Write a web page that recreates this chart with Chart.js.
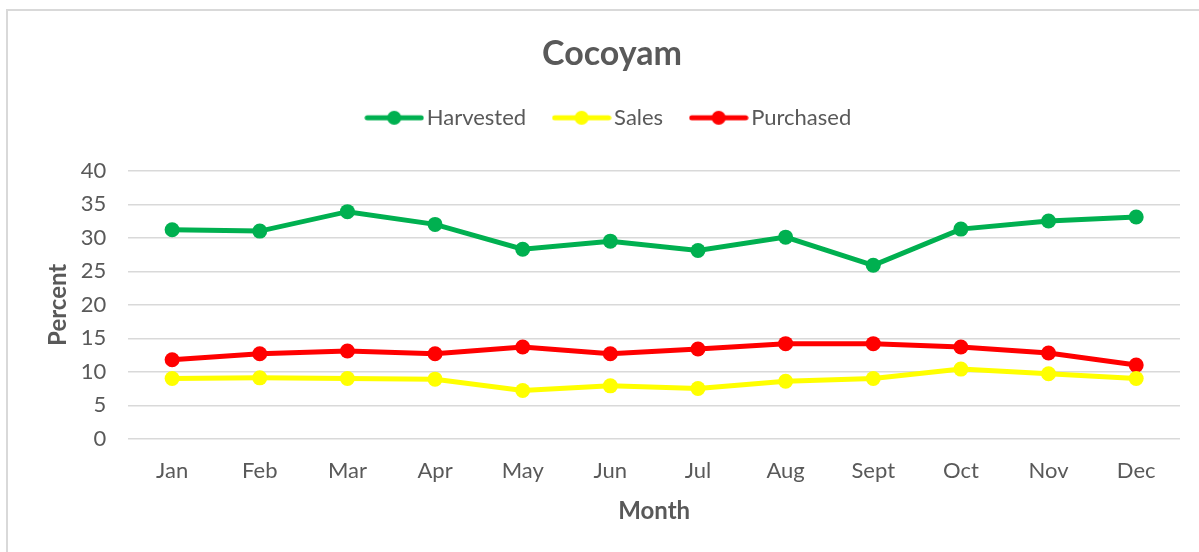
<!DOCTYPE html>
<html>
<head>
<meta charset="utf-8">
<script src="https://cdn.jsdelivr.net/npm/chart.js@4.4.0/dist/chart.umd.min.js"></script>
<style>
  html, body { margin: 0; padding: 0; background: #fff; overflow: hidden; }
  #frame { position: absolute; left: 6px; top: 9px; width: 1300px; height: 700px; border: 2px solid #d9d9d9; }
  #wrap { position: absolute; left: 0; top: 0; width: 1199px; height: 552px; }
</style>
</head>
<body>
<div id="frame"></div>
<div id="wrap"><canvas id="chart"></canvas></div>
<script>
// chart data
const months = ["Jan", "Feb", "Mar", "Apr", "May", "Jun", "Jul", "Aug", "Sept", "Oct", "Nov", "Dec"];
const harvested = [31.2, 31.0, 33.9, 32.0, 28.3, 29.5, 28.1, 30.1, 25.9, 31.3, 32.5, 33.1];
const sales = [9.0, 9.1, 9.0, 8.9, 7.2, 7.9, 7.5, 8.6, 9.0, 10.4, 9.7, 9.0];
const purchased = [11.8, 12.7, 13.1, 12.7, 13.7, 12.7, 13.4, 14.2, 14.2, 13.7, 12.8, 11.0];
const yTicks = [0, 5, 10, 15, 20, 25, 30, 35, 40];

const fontFamily = "Lato, 'Open Sans', sans-serif";
const textColor = "#595959";

// small line+dot picture for legend
function legendMark(color) {
  const c = document.createElement("canvas");
  c.width = 60;
  c.height = 16;
  const g = c.getContext("2d");
  g.strokeStyle = color;
  g.lineWidth = 5;
  g.lineCap = "round";
  g.beginPath();
  g.moveTo(3, 8);
  g.lineTo(57, 8);
  g.stroke();
  g.fillStyle = color;
  g.beginPath();
  g.arc(30, 8, 7, 0, Math.PI * 2);
  g.fill();
  return c;
}

function makeSet(label, data, color) {
  return {
    label: label,
    data: data,
    borderColor: color,
    backgroundColor: color,
    borderWidth: 5,
    pointRadius: 7.5,
    pointHoverRadius: 7.5,
    pointBorderWidth: 0,
    tension: 0,
    legendImg: legendMark(color)
  };
}

// extra room under the legend
const legendSpace = {
  id: "legendSpace",
  beforeInit(chart) {
    const fit = chart.legend.fit;
    chart.legend.fit = function() {
      fit.bind(chart.legend)();
      this.height += 32;
    };
  }
};

const ctx = document.getElementById("chart").getContext("2d");
new Chart(ctx, {
  type: "line",
  data: {
    labels: months,
    datasets: [
      makeSet("Harvested", harvested, "#00b050"),
      makeSet("Sales", sales, "#ffff00"),
      makeSet("Purchased", purchased, "#ff0000")
    ]
  },
  plugins: [legendSpace],
  options: {
    responsive: true,
    maintainAspectRatio: false,
    animation: false,
    layout: { padding: { left: 44, right: 19, top: 10, bottom: 28 } },
    plugins: {
      title: {
        display: true,
        text: "Cocoyam",
        color: textColor,
        font: { family: fontFamily, size: 34, weight: "bold" },
        padding: { top: 24, bottom: -2 }
      },
      legend: {
        display: true,
        labels: {
          usePointStyle: true,
          pointStyleWidth: 43,
          color: textColor,
          font: { family: fontFamily, size: 22 },
          padding: 34,
          generateLabels: function(chart) {
            return chart.data.datasets.map(function(ds, i) {
              return {
                text: ds.label,
                fillStyle: ds.borderColor,
                strokeStyle: ds.borderColor,
                lineWidth: 0,
                pointStyle: ds.legendImg,
                fontColor: textColor,
                datasetIndex: i
              };
            });
          }
        }
      },
      tooltip: { enabled: false }
    },
    scales: {
      x: {
        offset: true,
        grid: { display: false },
        border: { display: false },
        ticks: {
          color: textColor,
          font: { family: fontFamily, size: 22 },
          padding: 11,
          maxRotation: 0
        },
        title: {
          display: true,
          text: "Month",
          color: textColor,
          font: { family: fontFamily, size: 24, weight: "bold" },
          padding: { top: 2, bottom: -2 }
        }
      },
      y: {
        min: 0,
        max: 40,
        afterBuildTicks: function(axis) {
          axis.ticks = yTicks.map(function(v) { return { value: v }; });
        },
        grid: { color: "#d9d9d9", lineWidth: 1.5, drawTicks: false },
        border: { display: false },
        ticks: {
          color: textColor,
          font: { family: fontFamily, size: 22 },
          padding: 22
        },
        title: {
          display: true,
          text: "Percent",
          color: textColor,
          font: { family: fontFamily, size: 24, weight: "bold" },
          padding: { top: 0, bottom: -14 }
        }
      }
    }
  }
});
</script>
</body>
</html>
